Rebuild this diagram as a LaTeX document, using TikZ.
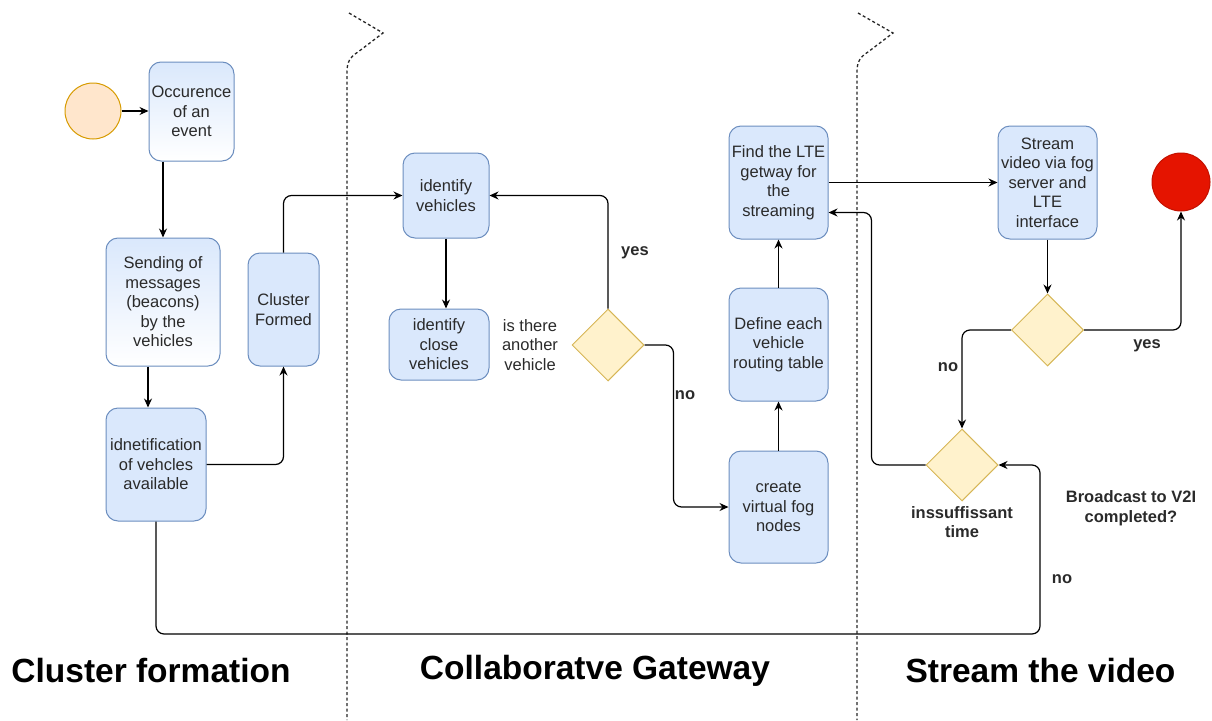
\documentclass[tikz,border=0pt]{standalone}
\usepackage{fontspec}
\setmainfont{Liberation Sans}
\usetikzlibrary{shapes.geometric,arrows.meta,calc}
\definecolor{bfill}{HTML}{DAE8FC}
\definecolor{bstroke}{HTML}{6C8EBF}
\definecolor{dfill}{HTML}{FFF2CC}
\definecolor{dstroke}{HTML}{D6B656}
\definecolor{sfill}{HTML}{FFE6CC}
\definecolor{sstroke}{HTML}{D79B00}
\definecolor{efill}{HTML}{E51400}
\definecolor{txt}{HTML}{2A2A2A}
\tikzset{
  box/.style={draw=bstroke, fill=bfill, line width=1pt, rounded corners=12pt, align=center,
    inner sep=0pt, text=txt, font=\fontsize{16.5}{19.5}\selectfont},
  gbox/.style={box, top color=bfill, bottom color=white},
  dec/.style={draw=dstroke, fill=dfill, line width=1pt, diamond, shape aspect=1, inner sep=0pt,
    minimum width=72pt, minimum height=72pt},
  arr/.style={draw=black, line width=1.2pt, rounded corners=8pt, -{Stealth[length=9pt,width=8pt]}},
  lbl/.style={align=center, text=txt, font=\fontsize{16.5}{19.5}\selectfont, inner sep=0pt},
  blbl/.style={lbl, font=\fontsize{16.5}{19.5}\selectfont\bfseries},
  ttl/.style={font=\fontsize{33.5}{38}\selectfont\bfseries, inner sep=0pt},
  divider/.style={draw=black!85, line width=1.3pt, dash pattern=on 3pt off 2.5pt}
}
\begin{document}
\begin{tikzpicture}[x=1pt,y=-1pt]
\useasboundingbox (0,0) rectangle (1212,720);

% dividers
\draw[divider] (349,13) -- (383,33) -- (358,52) .. controls (350,57) and (347,62) .. (347,72) -- (347,720);
\draw[divider] (858,13) -- (893,33) -- (868,52) .. controls (860,57) and (857,62) .. (857,72) -- (857,720);

% nodes
\node[circle, draw=sstroke, fill=sfill, line width=1pt, minimum size=56pt, inner sep=0pt] (start) at (93,111) {};
\node[gbox, minimum width=85pt, minimum height=99pt] (occ) at (191.5,111.5) {Occurence\\of an\\event};
\node[gbox, minimum width=114pt, minimum height=128pt] (send) at (163,302) {Sending of\\messages\\(beacons)\\by the\\vehicles};
\node[box, minimum width=71pt, minimum height=113pt] (clus) at (283.5,309.5) {Cluster\\Formed};
\node[box, minimum width=100pt, minimum height=113pt] (idn) at (156,464.5) {idnetification\\of vehcles\\available};
\node[box, minimum width=86pt, minimum height=85pt] (idv) at (446,195.5) {identify\\vehicles};
\node[box, minimum width=100pt, minimum height=71pt] (close) at (439,344.5) {identify\\close\\vehicles};
\node[dec] (d1) at (608,345) {};
\node[box, minimum width=99pt, minimum height=112pt] (create) at (778.5,507) {create\\virtual fog\\nodes};
\node[box, minimum width=99pt, minimum height=113pt] (define) at (778.5,344.5) {Define each\\vehicle\\routing table};
\node[box, minimum width=99pt, minimum height=113pt] (find) at (778.5,182.5) {Find the LTE\\getway for\\the\\streaming};
\node[box, minimum width=99pt, minimum height=113pt] (stream) at (1047.5,182.5) {Stream\\video via fog\\server and\\LTE\\interface};
\node[circle, draw=efill!85!black, fill=efill, line width=1pt, minimum size=58pt, inner sep=0pt] (endc) at (1181,182) {};
\node[dec] (d2) at (1047.5,330) {};
\node[dec] (d3) at (962,465) {};
\coordinate (loopc) at (1040,634);

% labels
\node[lbl] (q1) at (530,345) {is there\\another\\vehicle};
\node[blbl] (yes1) at (635,253) {yes};
\node[blbl] (no1) at (685,395) {no};
\node[blbl] (yes2) at (1147,346) {yes};
\node[blbl] (no2) at (948,367) {no};
\node[blbl] (ins) at (962,522) {inssuffissant\\time};
\node[blbl] (bc) at (1131,508) {Broadcast to V2I\\completed?};
\node[blbl] (no3) at (1062,579) {no};

\node[ttl] (t1) at (151,671) {Cluster formation};
\node[ttl] (t2) at (595,671) {Collaboratve Gateway};
\node[ttl] (t3) at (1040.5,671) {Stream the video};

% connectors
\draw[arr] (start.east) -- (occ.west |- start.east);
\draw[arr] (occ.south -| send.north) -- (send.north);
\draw[arr] ([xshift=-15pt]send.south) -- ([xshift=-15pt]send.south |- idn.north);
\draw[arr] (idn.east) -| (clus.south);
\draw[arr] (clus.north) |- (idv.west);
\draw[arr] (idv.south) -- (idv.south |- close.north);
\draw[arr] (d1.north) |- (idv.east);
\draw[arr] (d1.east) -- ++(29,0) |- (create.west);
\draw[arr] (create.north) -- (define.south);
\draw[arr] (define.north) -- (find.south);
\draw[arr] (find.east) -- (stream.west);
\draw[arr] (stream.south) -- (d2.north);
\draw[arr] (d2.west) -| (d3.north);
\draw[arr] (d2.east) -| (endc.south);
\draw[arr] (d3.west) -- ++(-54,0) |- ([yshift=-30pt]find.east);
\draw[arr] (idn.south) |- (loopc) |- (d3.east);
\end{tikzpicture}
\end{document}
